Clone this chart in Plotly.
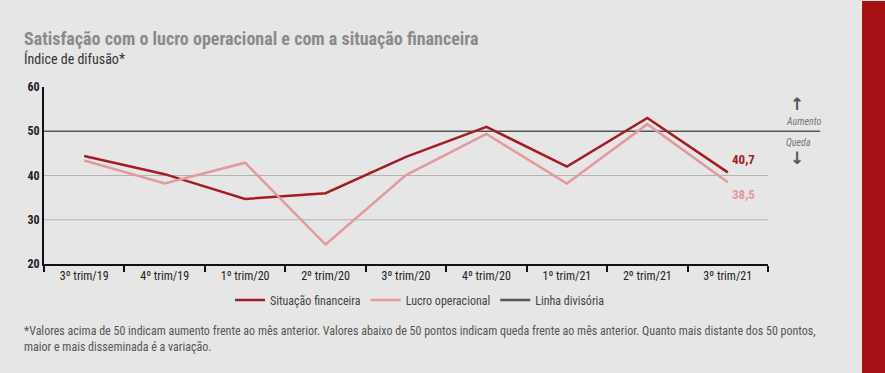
import plotly.graph_objects as go

categories = ["3º trim/19", "4º trim/19", "1º trim/20", "2º trim/20", "3º trim/20",
              "4º trim/20", "1º trim/21", "2º trim/21", "3º trim/21"]
situacao_financeira = [44.4, 40.3, 34.7, 36.0, 44.2, 51.0, 42.0, 53.0, 40.7]
lucro_operacional = [43.4, 38.2, 42.9, 24.4, 40.1, 49.4, 38.2, 51.6, 38.5]
divider_value = 50
y_ticks = [20, 30, 40, 50, 60]
grid_values = [30, 40]

FONT = "Liberation Sans Narrow, Roboto Condensed, Arial Narrow, Roboto, sans-serif"
DARK_RED = "#a51d23"
PINK = "#e39a9c"
DIV_COL = "#555555"
BG = "#e6e6e6"

fig = go.Figure()
fig.add_trace(go.Scatter(x=categories, y=situacao_financeira, mode="lines",
                         name="Situação financeira", line=dict(color=DARK_RED, width=2.5)))
fig.add_trace(go.Scatter(x=categories, y=lucro_operacional, mode="lines",
                         name="Lucro operacional", line=dict(color=PINK, width=2.5)))
fig.add_trace(go.Scatter(x=[None], y=[None], mode="lines",
                         name="Linha divisória", line=dict(color=DIV_COL, width=2.5)))

shapes = []
for g in grid_values:
    shapes.append(dict(type="line", xref="paper", yref="y", x0=0, x1=1, y0=g, y1=g,
                       line=dict(color="#b3b3b3", width=1), layer="below"))
shapes.append(dict(type="line", xref="paper", yref="y", x0=0, x1=1.072, y0=divider_value,
                   y1=divider_value, line=dict(color=DIV_COL, width=1.5), layer="below"))
# red side bar
shapes.append(dict(type="rect", xref="paper", yref="paper", x0=(862 - 44) / 724, x1=1.2,
                   y0=-0.7, y1=(264 - 1) / 177, fillcolor="#a81116", line=dict(width=0), layer="below"))

annotations = [
    dict(text="Satisfação com o lucro operacional e com a situação financeira", xref="paper", yref="paper",
         x=-22 / 724, y=(264 - 38) / 177, xanchor="left", yanchor="middle", showarrow=False,
         font=dict(family=FONT, size=18, color="#8a8a8a", weight="bold")),
    dict(text="Índice de difusão*", xref="paper", yref="paper",
         x=-22 / 724, y=(264 - 59) / 177, xanchor="left", yanchor="middle", showarrow=False,
         font=dict(family=FONT, size=14, color="#333333")),
    dict(text="40,7", x=categories[-1], y=situacao_financeira[-1], xref="x", yref="y",
         xshift=2, yshift=13, xanchor="left", yanchor="middle", showarrow=False,
         font=dict(family=FONT, size=13, color=DARK_RED, weight="bold")),
    dict(text="38,5", x=categories[-1], y=lucro_operacional[-1], xref="x", yref="y",
         xshift=2, yshift=-12, xanchor="left", yanchor="middle", showarrow=False,
         font=dict(family=FONT, size=13, color=PINK, weight="bold")),
    dict(text="<b>↑</b>", xref="paper", yref="paper", x=(797 - 44) / 724, y=(264 - 104) / 177,
         xanchor="center", yanchor="middle", showarrow=False,
         font=dict(family="DejaVu Sans", size=17, color="#555555")),
    dict(text="<i>Aumento</i>", xref="paper", yref="paper", x=(804 - 44) / 724, y=(264 - 121) / 177,
         xanchor="center", yanchor="middle", showarrow=False,
         font=dict(family=FONT, size=10, color="#777777")),
    dict(text="<i>Queda</i>", xref="paper", yref="paper", x=(798 - 44) / 724, y=(264 - 142) / 177,
         xanchor="center", yanchor="middle", showarrow=False,
         font=dict(family=FONT, size=10, color="#777777")),
    dict(text="<b>↓</b>", xref="paper", yref="paper", x=(797 - 44) / 724, y=(264 - 158) / 177,
         xanchor="center", yanchor="middle", showarrow=False,
         font=dict(family="DejaVu Sans", size=17, color="#555555")),
    dict(text="*Valores acima de 50 indicam aumento frente ao mês anterior. Valores abaixo de 50 pontos indicam queda frente ao mês anterior. Quanto mais distante dos 50 pontos,<br>maior e mais disseminada é a variação.",
         xref="paper", yref="paper", x=-22 / 724, y=(264 - 322) / 177, xanchor="left", yanchor="top",
         align="left", showarrow=False,
         font=dict(family=FONT, size=12, color="#555555")),
]

fig.update_layout(
    width=885, height=373,
    margin=dict(l=44, r=117, t=87, b=109),
    paper_bgcolor=BG, plot_bgcolor=BG,
    font=dict(family=FONT, color="#222222"),
    shapes=shapes, annotations=annotations,
    showlegend=True,
    legend=dict(orientation="h", x=(420 - 44) / 724, xanchor="center", y=(264 - 300) / 177,
                yanchor="middle", font=dict(family=FONT, size=12, color="#444444"),
                bgcolor="rgba(0,0,0,0)", itemwidth=30),
    xaxis=dict(type="category", range=[-0.5, len(categories) - 0.5], showgrid=False,
               showline=True, linecolor="#111111", linewidth=2, ticks="outside",
               tickson="boundaries", ticklen=6, tickwidth=2, tickcolor="#111111",
               tickfont=dict(family=FONT, size=12, color="#222222"), zeroline=False),
    yaxis=dict(range=[20, 60], tickvals=y_ticks, showgrid=False, showline=True,
               linecolor="#111111", linewidth=2, ticks="", zeroline=False,
               tickfont=dict(family=FONT, size=12, color="#222222", weight="bold")),
)

fig.write_html("out.html", config={"displayModeBar": False},
               post_script="document.body.style.margin='0';document.body.style.background='#ffffff';")
